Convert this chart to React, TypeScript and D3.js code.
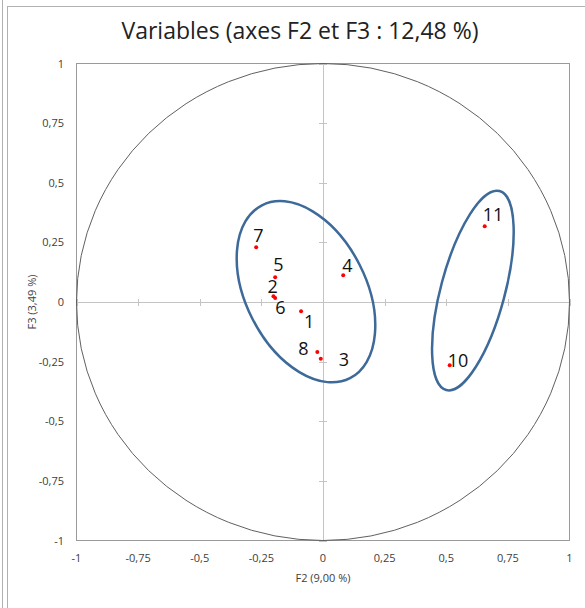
import React from "react";
import * as d3 from "d3";

const labels = ["1", "2", "3", "4", "5", "6", "7", "8", "10", "11"];
const f2Values = [-0.089, -0.201, -0.009, 0.082, -0.194, -0.194, -0.271, -0.023, 0.514, 0.656];
const f3Values = [-0.039, 0.024, -0.238, 0.112, 0.104, 0.017, 0.230, -0.210, -0.265, 0.318];
// label offsets in px (layout only)
const labelDx = [3, -6, 18, -1, -2, 0, -3, -19, -2, -2];
const labelDy = [17, -3, 7, -3, -6, 16, -5, 3, 2, -5];

const tickValues = [-1, -0.75, -0.5, -0.25, 0, 0.25, 0.5, 0.75, 1];
const fmt = (v: number) => String(v).replace(".", ",");

// ellipse annotations: center in data units, semi-axes in px, rotation deg
const ellipseCx = [-0.069, 0.608];
const ellipseCy = [0.043, 0.048];
const ellipseRx = [97, 103];
const ellipseRy = [60, 32];
const ellipseRot = [63, -75];

export default function App() {
  const W = 585, H = 608;
  const x = d3.scaleLinear().domain([-1, 1]).range([76.5, 569.5]);
  const y = d3.scaleLinear().domain([-1, 1]).range([540.5, 63.5]);
  const font = "'Open Sans', 'Noto Sans', sans-serif";
  return (
    <svg width={W} height={H} style={{ position: "absolute", left: 0, top: 0 }}>
      <rect x={0} y={0} width={W} height={H} fill="#fff" />
      {/* frame */}
      <line x1={2.5} y1={0} x2={2.5} y2={H} stroke="#b0b0b0" />
      <line x1={7.5} y1={6} x2={7.5} y2={H} stroke="#b0b0b0" />
      <line x1={7.5} y1={6.5} x2={W} y2={6.5} stroke="#b0b0b0" />
      <text x={300} y={39} textAnchor="middle" fontFamily={font} fontSize={23} fill="#222">
        Variables (axes F2 et F3 : 12,48 %)
      </text>
      {/* plot box */}
      <rect x={x(-1)} y={y(1)} width={x(1) - x(-1)} height={y(-1) - y(1)} fill="none" stroke="#9a9a9a" />
      {/* center axes */}
      <line x1={x(-1)} x2={x(1)} y1={Math.round(y(0)) + 0.5} y2={Math.round(y(0)) + 0.5} stroke="#c4c4c4" />
      <line y1={y(-1)} y2={y(1)} x1={Math.round(x(0)) + 0.5} x2={Math.round(x(0)) + 0.5} stroke="#c4c4c4" />
      {tickValues.map((t) => (
        <g key={"t" + t}>
          <line x1={Math.round(x(t)) + 0.5} x2={Math.round(x(t)) + 0.5} y1={y(0) - 3} y2={y(0) + 4} stroke="#c4c4c4" />
          <line y1={Math.round(y(t)) + 0.5} y2={Math.round(y(t)) + 0.5} x1={x(0) - 4} x2={x(0) + 4} stroke="#c4c4c4" />
          <text x={x(t)} y={562} textAnchor="middle" fontFamily={font} fontSize={11} fill="#404040">{fmt(t)}</text>
          <text x={64} y={y(t) + 4} textAnchor="end" fontFamily={font} fontSize={11} fill="#404040">{fmt(t)}</text>
        </g>
      ))}
      <text x={x(0)} y={582} textAnchor="middle" fontFamily={font} fontSize={11} fill="#404040">F2 (9,00 %)</text>
      <text transform={`translate(36,${y(0)}) rotate(-90)`} textAnchor="middle" fontFamily={font} fontSize={11} fill="#404040">F3 (3,49 %)</text>
      {/* correlation circle */}
      <ellipse cx={x(0)} cy={y(0)} rx={(x(1) - x(-1)) / 2} ry={(y(-1) - y(1)) / 2} fill="none" stroke="#606060" strokeWidth={1} />
      {/* annotation ellipses */}
      {ellipseCx.map((cx, i) => (
        <ellipse key={"e" + i} transform={`translate(${x(cx)},${y(ellipseCy[i])}) rotate(${ellipseRot[i]})`}
          rx={ellipseRx[i]} ry={ellipseRy[i]} fill="none" stroke="#3d6a99" strokeWidth={2.5} />
      ))}
      {/* points */}
      {labels.map((l, i) => (
        <g key={"p" + l}>
          <circle cx={x(f2Values[i])} cy={y(f3Values[i])} r={2} fill="#ff0000" />
          <text x={x(f2Values[i]) + labelDx[i]} y={y(f3Values[i]) + labelDy[i]} fontFamily={font} fontSize={18} fill="#111">{l}</text>
        </g>
      ))}
    </svg>
  );
}
